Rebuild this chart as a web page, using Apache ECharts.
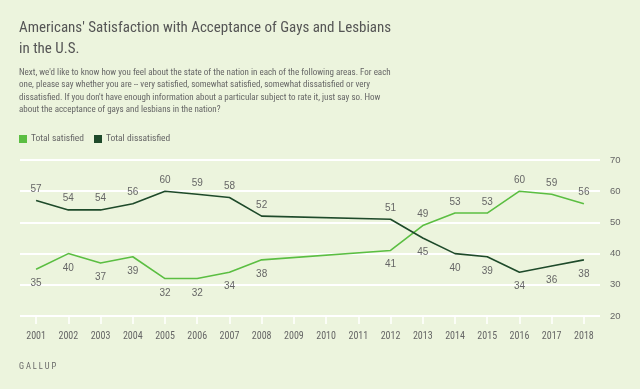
<!DOCTYPE html>
<html><head><meta charset="utf-8">
<script src="https://cdn.jsdelivr.net/npm/echarts@6/dist/echarts.min.js"></script>
<style>html,body{margin:0;padding:0;background:#ECF4DD;}#c{width:640px;height:389px;}</style>
</head><body><div id="c"></div>
<script>
const years = ['2001','2002','2003','2004','2005','2006','2007','2008','2009','2010','2011','2012','2013','2014','2015','2016','2017','2018'];
const satisfied = [35,40,37,39,32,32,34,38,null,null,null,41,49,53,53,60,59,56];
const dissatisfied = [57,54,54,56,60,59,58,52,null,null,null,51,45,40,39,34,36,38];
const yTicks = [20,30,40,50,60,70];

const FONT = '"Liberation Sans Narrow", "Roboto Condensed", Roboto, sans-serif';
const NUMFONT = '"Liberation Sans", Arial, sans-serif';
const GRAY = '#666';

function mk(vals, other){
  return vals.map((v,i)=> {
    if (v == null) return null;
    const up = v > other[i];
    return {value: v, label: {position: up ? 'top' : 'bottom', distance: up ? 6 : 9}};
  });
}

const chart = echarts.init(document.getElementById('c'));
chart.setOption({
  backgroundColor: '#ECF4DD',
  animation: false,
  title: [
    {text: "Americans' Satisfaction with Acceptance of Gays and Lesbians\nin the U.S.", left: 14, top: 13,
     textStyle:{fontFamily: FONT, fontSize: 15, fontWeight: 'normal', color: '#555', lineHeight: 21}},
    {text: "Next, we'd like to know how you feel about the state of the nation in each of the following areas. For each\none, please say whether you are -- very satisfied, somewhat satisfied, somewhat dissatisfied or very\ndissatisfied. If you don't have enough information about a particular subject to rate it, just say so. How\nabout the acceptance of gays and lesbians in the nation?", left: 14, top: 61,
     textStyle:{fontFamily: FONT, fontSize: 9, fontWeight: 'normal', color: '#666', lineHeight: 12.6}},
    {text: 'G A L L U P', left: 14, top: 357, textStyle:{fontFamily: FONT, fontSize: 8.5, fontWeight:'normal', color:'#666'}}
  ],
  legend: {
    left: 14, top: 129, itemWidth: 8, itemHeight: 8, itemGap: 10, icon: 'rect',
    textStyle: {fontFamily: FONT, fontSize: 9.5, color: GRAY, padding:[0,0,0,-1]},
    data: ['Total satisfied','Total dissatisfied']
  },
  grid: {left: 20, right: 40, top: 160, bottom: 73},
  xAxis: {
    type: 'category', data: years, boundaryGap: true,
    axisLine: {show: false},
    axisTick: {show: true, alignWithLabel: true, length: 8, lineStyle:{color:'#fff', width: 1.5}},
    axisLabel: {fontFamily: FONT, fontSize: 10, color: GRAY, margin: 15}
  },
  yAxis: {
    type: 'value', position: 'right', min: yTicks[0], max: yTicks[yTicks.length-1], interval: 10,
    axisLine: {show: false}, axisTick: {show: false},
    axisLabel: {fontFamily: NUMFONT, fontSize: 9.5, color: GRAY, margin: 10},
    splitLine: {lineStyle: {color: '#fff', width: 2}}
  },
  series: [
    {name: 'Total satisfied', type: 'line', data: mk(satisfied, dissatisfied), connectNulls: true,
     showSymbol: true, symbol: 'circle', symbolSize: 0.5, color: '#5BBE42', lineStyle:{width: 1.6, color:'#5BBE42'},
     label: {show: true, fontFamily: NUMFONT, fontSize: 10, color: GRAY}},
    {name: 'Total dissatisfied', type: 'line', data: mk(dissatisfied, satisfied), connectNulls: true,
     showSymbol: true, symbol: 'circle', symbolSize: 0.5, color: '#1E4A2A', lineStyle:{width: 1.6, color:'#1E4A2A'},
     label: {show: true, fontFamily: NUMFONT, fontSize: 10, color: GRAY}}
  ]
});
</script></body></html>
